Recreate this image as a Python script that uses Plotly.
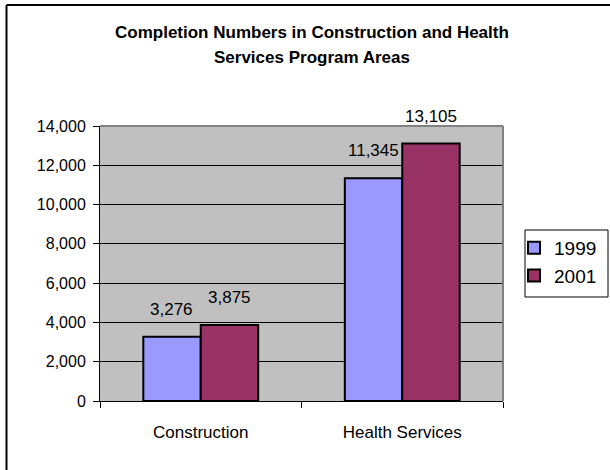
import plotly.graph_objects as go

categories = ["Construction", "Health Services"]
series_names = ["1999", "2001"]
values_1999 = [3276, 11345]
values_2001 = [3875, 13105]
colors = ["#9999FF", "#993366"]
y_ticks = [0, 2000, 4000, 6000, 8000, 10000, 12000, 14000]
title_lines = ["Completion Numbers in Construction and Health",
               "Services Program Areas"]

FONT = "Liberation Sans Narrow, Arial Narrow, Liberation Sans, Arial, sans-serif"

L, R, T, B = 100, 107, 126, 69
W, H = 610, 470
pw, ph = W - L - R, H - T - B


def px(x):
    return (x - L) / pw


def py(y):
    return (H - B - y) / ph


fig = go.Figure()
for name, vals, col in zip(series_names, [values_1999, values_2001], colors):
    fig.add_trace(go.Bar(
        x=categories, y=vals, name=name,
        marker=dict(color=col, line=dict(color="black", width=2)),
        cliponaxis=False,
    ))

# value labels, placed from the data with a pixel offset above each bar
shifts = [-29, 29]
for vals, xs in zip([values_1999, values_2001], shifts):
    for cat, v in zip(categories, vals):
        fig.add_annotation(x=cat, y=v, xref="x", yref="y", text=f"{v:,}",
                           showarrow=False, xshift=xs, yshift=16,
                           yanchor="bottom", xanchor="center",
                           font=dict(family=FONT, size=17, color="black"))

fig.update_layout(
    width=W, height=H,
    margin=dict(l=L, r=R, t=T, b=B, autoexpand=False),
    paper_bgcolor="white", plot_bgcolor="#C0C0C0",
    barmode="group", bargap=0.43, bargroupgap=0,
    font=dict(family=FONT, size=16, color="black"),
    legend=dict(x=px(514), y=py(229), xanchor="left", yanchor="top",
                borderwidth=0, bgcolor="rgba(0,0,0,0)",
                font=dict(family="Liberation Sans, Arial, sans-serif", size=19),
                itemwidth=30),
    xaxis=dict(tickson="boundaries", ticks="outside", ticklen=6, tickcolor="black",
               showline=True, linecolor="black", linewidth=1, showgrid=False,
               ticklabelstandoff=16,
               tickfont=dict(family=FONT, size=17)),
    yaxis=dict(range=[0, 14000], tickvals=y_ticks, tickformat=",d",
               ticks="outside", ticklen=6, tickcolor="black",
               showline=True, linecolor="black", linewidth=1,
               showgrid=True, gridcolor="black", gridwidth=1,
               ticklabelstandoff=4,
               tickfont=dict(family=FONT, size=16), zeroline=False),
    showlegend=True,
)

# title as two centred lines
for line, yy in zip(title_lines, [32, 58]):
    fig.add_annotation(xref="paper", yref="paper", x=px(312), y=py(yy),
                       text=f"<b>{line}</b>", showarrow=False,
                       xanchor="center", yanchor="middle",
                       font=dict(family=FONT, size=17, color="black"))

# plot area top/right gray border
fig.add_shape(type="line", xref="paper", yref="paper", x0=0, x1=1, y0=1, y1=1,
              line=dict(color="#808080", width=2))
fig.add_shape(type="line", xref="paper", yref="paper", x0=1, x1=1, y0=0, y1=1,
              line=dict(color="#808080", width=2))
# legend box
fig.add_shape(type="rect", xref="paper", yref="paper",
              x0=px(525), x1=px(608), y0=py(297), y1=py(230),
              line=dict(color="black", width=1), layer="above")
# outer chart border (top and left edges visible)
fig.add_shape(type="line", xref="paper", yref="paper",
              x0=px(6.5), x1=px(612), y0=py(5), y1=py(5),
              line=dict(color="black", width=2))
fig.add_shape(type="line", xref="paper", yref="paper",
              x0=px(6.5), x1=px(6.5), y0=py(5), y1=py(472),
              line=dict(color="black", width=2))

fig.write_html("out.html", config={"displayModeBar": False},
               post_script="document.body.style.margin='0';document.body.style.overflow='hidden';")
